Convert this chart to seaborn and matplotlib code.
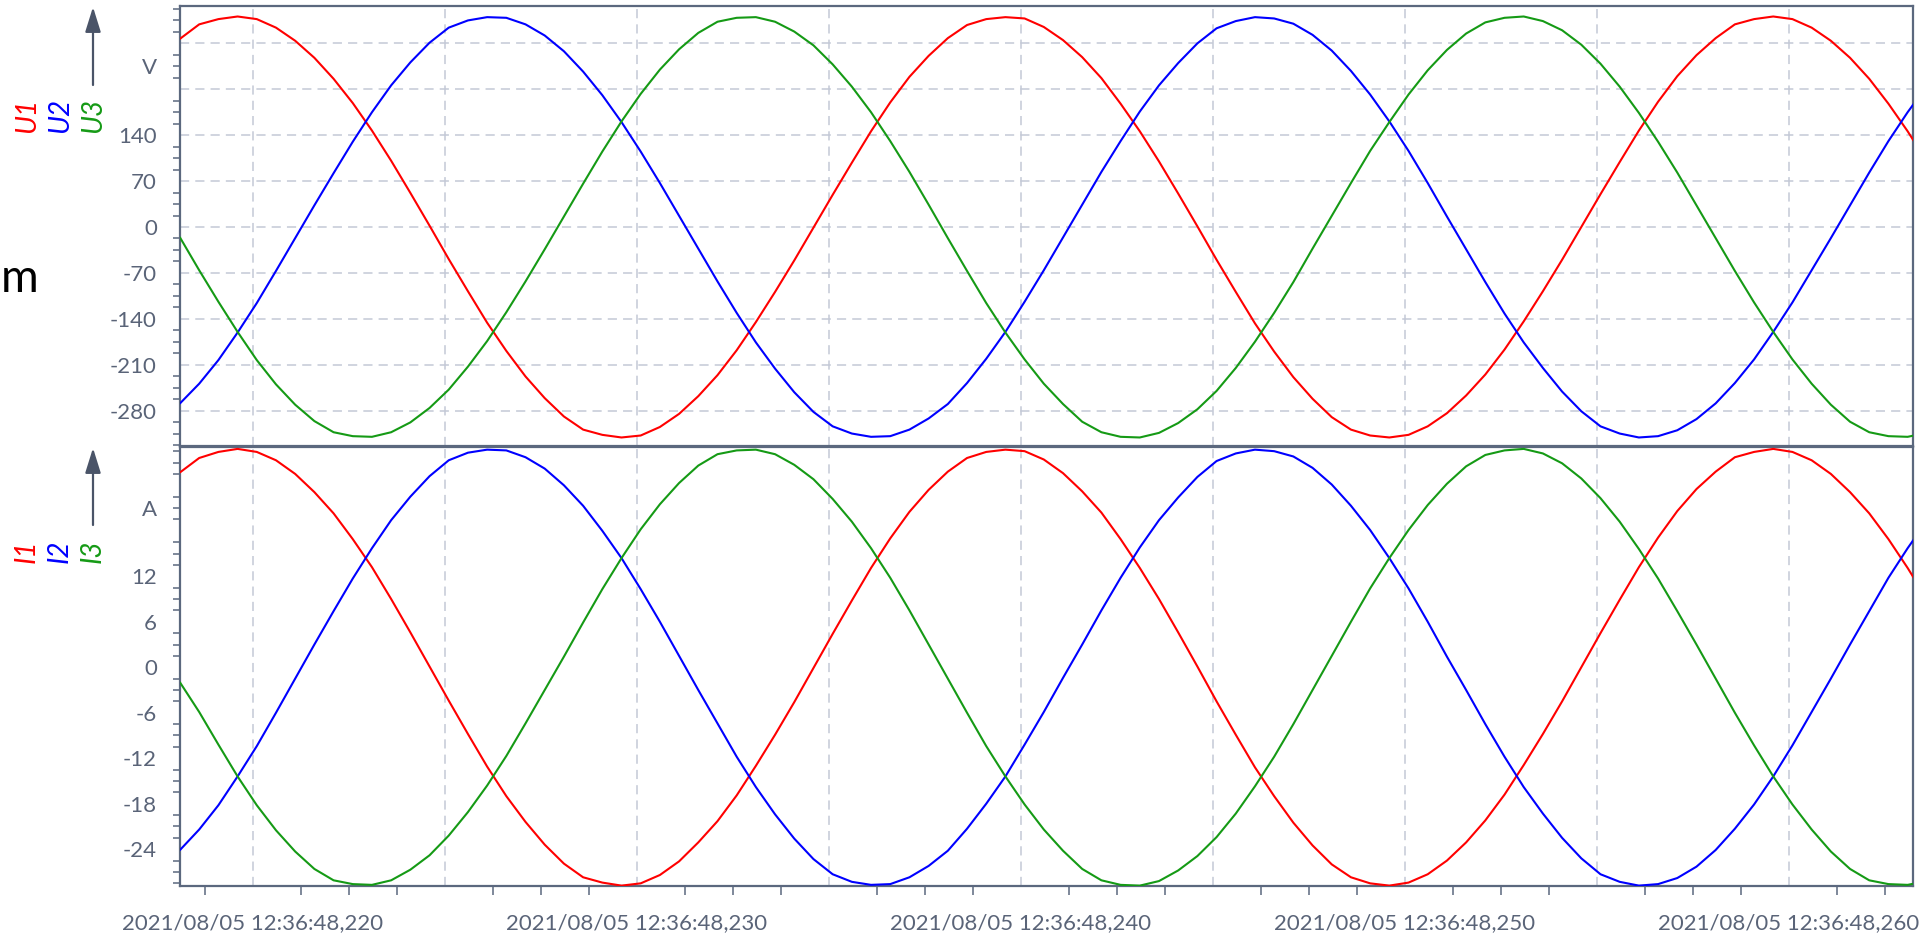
import matplotlib
matplotlib.use("Agg")
import matplotlib.pyplot as plt
from matplotlib.patches import FancyArrowPatch
from matplotlib.ticker import FuncFormatter, MultipleLocator
import numpy as np
import pandas as pd
import seaborn as sns

# sample grid: milliseconds after 2021/08/05 12:36:48
t_start = 218.1
t_step = 0.5

# phase voltages (V)
u1 = [
    287, 309, 317, 321, 317, 304, 284, 258, 226, 189,
    147, 101, 52, 2, -49, -98, -146, -189, -228, -261,
    -289, -309, -317, -321, -318, -305, -285, -258, -226, -188,
    -145, -99, -51, -1, 49, 98, 146, 190, 229, 261,
    288, 308, 317, 320, 318, 305, 285, 259, 227, 188,
    146, 100, 51, 1, -50, -99, -147, -190, -229, -262,
    -290, -309, -318, -321, -317, -304, -284, -257, -225, -187,
    -144, -98, -50, 0, 50, 99, 147, 191, 230, 262,
    288, 309, 317, 321, 317, 304, 284, 258, 226, 188,
    146, 100,
]
u2 = [
    -269, -239, -203, -161, -116, -67, -17, 33, 82, 130,
    175, 216, 251, 281, 304, 315, 320, 319, 309, 292,
    268, 237, 201, 160, 115, 67, 17, -33, -83, -131,
    -176, -216, -252, -282, -304, -315, -320, -319, -309, -292,
    -270, -238, -201, -160, -114, -66, -16, 34, 84, 131,
    176, 216, 250, 280, 303, 314, 320, 318, 310, 293,
    269, 238, 202, 161, 116, 67, 16, -34, -84, -132,
    -176, -215, -251, -281, -304, -315, -321, -319, -310, -293,
    -269, -238, -202, -160, -115, -66, -17, 33, 83, 131,
    175, 215,
]
u3 = [
    -16, -66, -114, -160, -203, -240, -271, -296, -313, -319,
    -320, -313, -298, -276, -248, -213, -174, -130, -83, -34,
    16, 66, 115, 161, 203, 240, 271, 296, 313, 319,
    320, 313, 298, 277, 248, 214, 175, 131, 84, 34,
    -17, -67, -116, -161, -202, -239, -270, -297, -313, -320,
    -321, -314, -299, -278, -250, -215, -175, -131, -84, -33,
    17, 67, 116, 160, 202, 239, 270, 295, 312, 319,
    321, 314, 300, 278, 249, 214, 174, 130, 83, 33,
    -17, -67, -115, -160, -202, -239, -271, -297, -313, -319,
    -320, -314,
]

# phase currents (A)
i1 = [
    25.7, 27.6, 28.4, 28.8, 28.4, 27.3, 25.5, 23.1, 20.3, 16.9,
    13.2, 9.0, 4.6, 0.1, -4.4, -8.8, -13.1, -17.0, -20.4, -23.4,
    -25.9, -27.7, -28.4, -28.8, -28.5, -27.4, -25.6, -23.1, -20.3, -16.9,
    -13.0, -8.9, -4.6, -0.1, 4.4, 8.8, 13.1, 17.0, 20.5, 23.4,
    25.8, 27.6, 28.4, 28.7, 28.5, 27.4, 25.6, 23.2, 20.4, 16.9,
    13.1, 9.0, 4.6, 0.1, -4.5, -8.9, -13.2, -17.0, -20.5, -23.5,
    -26.0, -27.7, -28.5, -28.8, -28.4, -27.3, -25.5, -23.1, -20.2, -16.8,
    -12.9, -8.8, -4.5, 0.0, 4.5, 8.9, 13.2, 17.1, 20.6, 23.5,
    25.8, 27.7, 28.4, 28.8, 28.4, 27.3, 25.5, 23.1, 20.3, 16.9,
    13.1, 9.0,
]
i2 = [
    -24.1, -21.4, -18.2, -14.4, -10.4, -6.0, -1.5, 3.0, 7.4, 11.7,
    15.7, 19.4, 22.5, 25.2, 27.3, 28.3, 28.7, 28.6, 27.7, 26.2,
    24.0, 21.3, 18.0, 14.4, 10.3, 6.0, 1.5, -3.0, -7.4, -11.8,
    -15.8, -19.4, -22.6, -25.3, -27.3, -28.3, -28.7, -28.6, -27.7, -26.2,
    -24.2, -21.3, -18.0, -14.4, -10.2, -5.9, -1.4, 3.0, 7.5, 11.8,
    15.8, 19.4, 22.4, 25.1, 27.2, 28.2, 28.7, 28.5, 27.8, 26.3,
    24.1, 21.3, 18.1, 14.4, 10.4, 6.0, 1.4, -3.0, -7.5, -11.8,
    -15.8, -19.3, -22.5, -25.2, -27.3, -28.3, -28.8, -28.6, -27.8, -26.3,
    -24.1, -21.3, -18.1, -14.4, -10.3, -5.9, -1.5, 3.0, 7.4, 11.8,
    15.7, 19.3,
]
i3 = [
    -2.0, -5.9, -10.2, -14.4, -18.2, -21.5, -24.3, -26.6, -28.1, -28.6,
    -28.7, -28.1, -26.7, -24.8, -22.2, -19.1, -15.6, -11.7, -7.4, -3.0,
    1.4, 5.9, 10.3, 14.4, 18.2, 21.5, 24.3, 26.6, 28.1, 28.6,
    28.7, 28.1, 26.7, 24.8, 22.2, 19.2, 15.7, 11.8, 7.5, 3.0,
    -1.5, -6.0, -10.4, -14.4, -18.1, -21.4, -24.2, -26.6, -28.1, -28.7,
    -28.8, -28.2, -26.8, -24.9, -22.4, -19.3, -15.7, -11.8, -7.5, -3.0,
    1.5, 6.0, 10.4, 14.4, 18.1, 21.4, 24.2, 26.5, 28.0, 28.6,
    28.8, 28.2, 26.9, 24.9, 22.3, 19.2, 15.6, 11.7, 7.4, 3.0,
    -1.5, -6.0, -10.3, -14.4, -18.1, -21.4, -24.3, -26.6, -28.1, -28.6,
    -28.7, -28.2,
]

phase_colors = ["#ff0000", "#0000ff", "#159a15"]
SPINE = "#5b687e"
TEXT = "#5a6478"
GRID = "#c3c9d6"
W, H = 1933, 938

sns.set_style("white")
plt.rcParams["font.family"] = ["Lato", "DejaVu Sans"]
plt.rcParams["axes.unicode_minus"] = False

time_ms = t_start + t_step * np.arange(len(u1))


def long_frame(series, names):
    parts = [pd.DataFrame({"t": time_ms, "value": vals, "phase": name})
             for name, vals in zip(names, series)]
    return pd.concat(parts, ignore_index=True)


df_u = long_frame([u1, u2, u3], ["U1", "U2", "U3"])
df_i = long_frame([i1, i2, i3], ["I1", "I2", "I3"])

fig = plt.figure(figsize=(W / 100, H / 100), dpi=100)
ax_u = fig.add_axes([180 / W, 1 - 446 / H, 1733 / W, 440 / H])
ax_i = fig.add_axes([180 / W, 1 - 886 / H, 1733 / W, 439 / H])

sns.lineplot(data=df_u, x="t", y="value", hue="phase", palette=phase_colors,
             legend=False, lw=1.5, ax=ax_u, zorder=3)
sns.lineplot(data=df_i, x="t", y="value", hue="phase", palette=phase_colors,
             legend=False, lw=1.5, ax=ax_i, zorder=3)

x_end = 263.24
for ax in (ax_u, ax_i):
    ax.set_xlim(t_start, x_end)
    ax.set_xlabel("")
    ax.set_ylabel("")
    ax.set_axisbelow(True)
    for sp in ax.spines.values():
        sp.set_color(SPINE)
        sp.set_linewidth(1.6)
    ax.xaxis.set_major_locator(MultipleLocator(5))
    ax.xaxis.set_minor_locator(MultipleLocator(1.25))
    ax.grid(axis="x", which="major", ls=(0, (6, 4)), color=GRID, lw=1.1)
    ax.tick_params(axis="y", which="major", direction="inout", length=21.6,
                   width=1.3, color=SPINE, labelcolor=TEXT, labelsize=16, pad=5.8)
    ax.tick_params(axis="y", which="minor", direction="out", length=5,
                   width=1.1, color=SPINE, left=True)

# voltage panel
ax_u.set_ylim(-334, 337)
ax_u.yaxis.set_major_locator(MultipleLocator(70))
ax_u.yaxis.set_minor_locator(MultipleLocator(17.5))
ax_u.yaxis.set_major_formatter(
    FuncFormatter(lambda v, p: f"{v:.0f}" if -281 < v < 141 else ""))
ax_u.grid(axis="y", which="major", ls=(0, (6, 4)), color=GRID, lw=1.1)
ax_u.tick_params(axis="x", which="both", bottom=False, labelbottom=False)

# current panel
ax_i.set_ylim(-28.85, 29.05)
ax_i.yaxis.set_major_locator(MultipleLocator(6))
ax_i.yaxis.set_minor_locator(MultipleLocator(1.5))
ax_i.yaxis.set_major_formatter(
    FuncFormatter(lambda v, p: f"{v:.0f}" if -25 < v < 13 else ""))
ax_i.xaxis.set_major_formatter(
    FuncFormatter(lambda v, p: f"2021/08/05 12:36:48,{int(round(v))}"
                  if int(round(v)) % 10 == 0 else ""))
ax_i.tick_params(axis="x", which="major", direction="out", length=11.5,
                 width=1.3, color=SPINE, labelcolor=TEXT, labelsize=16, pad=8)
ax_i.tick_params(axis="x", which="minor", direction="out", length=6.5,
                 width=1.1, color=SPINE, bottom=True)

# channel names, unit letters and arrows to the left of each panel
for names, y_lab, unit, y_unit, y0, y1 in [
    (["U1", "U2", "U3"], 115, "V", 68, 85, 7),
    (["I1", "I2", "I3"], 551, "A", 510, 525, 448),
]:
    for x_px, name, col in zip([27, 60, 93], names, phase_colors):
        fig.text(x_px / W, 1 - y_lab / H, name, rotation=90, color=col,
                 style="italic", fontsize=20, ha="center", va="center")
    fig.text(150 / W, 1 - y_unit / H, unit, color=TEXT, fontsize=16,
             ha="center", va="center")
    fig.add_artist(FancyArrowPatch(
        (93 / W, 1 - y0 / H), (93 / W, 1 - y1 / H), transform=fig.transFigure,
        arrowstyle="-|>,head_length=0.8,head_width=0.25", mutation_scale=19,
        lw=1.6, color="#4a5468", shrinkA=0, shrinkB=0))

# caption fragment at the left edge
fig.text(1 / W, 1 - 292 / H, "m", color="black", fontsize=33,
         ha="left", va="baseline")

fig.savefig("out.png", dpi=100)
